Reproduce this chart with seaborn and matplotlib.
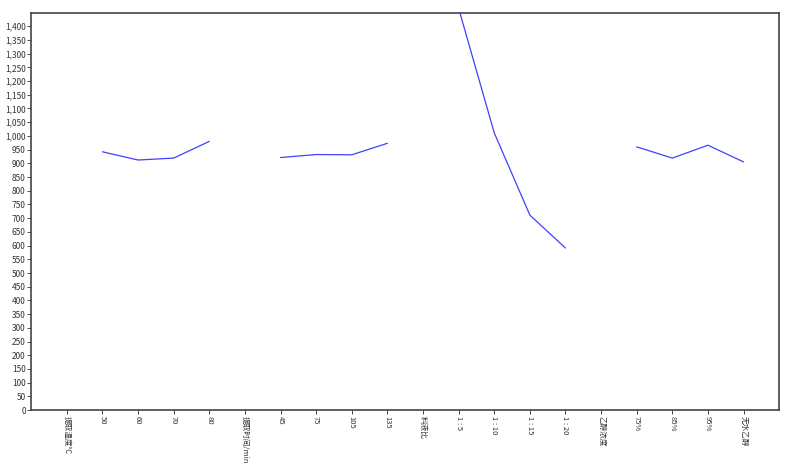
import matplotlib
matplotlib.use("Agg")

import matplotlib.pyplot as plt
import matplotlib.ticker as mticker
import seaborn as sns
import pandas as pd

# Factor groups: header label followed by its levels and measured values
factor_names = ["提取温度℃", "提取时间/min", "料液比", "乙醇浓度"]
temp_levels = ["50", "60", "70", "80"]
temp_values = [942, 912, 919, 980]
time_levels = ["45", "75", "105", "135"]
time_values = [921, 932, 931, 973]
ratio_levels = ["1 : 5", "1 : 10", "1 : 15", "1 : 20"]
ratio_values = [1465, 1011, 711, 591]
ethanol_levels = ["75%", "85%", "95%", "无水乙醇"]
ethanol_values = [960, 919, 966, 905]

groups = [
    (factor_names[0], temp_levels, temp_values),
    (factor_names[1], time_levels, time_values),
    (factor_names[2], ratio_levels, ratio_values),
    (factor_names[3], ethanol_levels, ethanol_values),
]

sns.set_style("white")
plt.rcParams["font.family"] = ["Noto Sans CJK SC", "DejaVu Sans"]

fig = plt.figure(figsize=(8, 4.65), dpi=100)
ax = fig.add_axes([0.039, 0.118, 0.935, 0.854])

tick_labels = []
pos = 0
for name, levels, values in groups:
    tick_labels.append(name)
    pos += 1
    df = pd.DataFrame({"x": range(pos, pos + len(levels)), "y": values})
    sns.lineplot(data=df, x="x", y="y", color="#4040ff", linewidth=0.9, ax=ax)
    tick_labels.extend(levels)
    pos += len(levels)

ax.set_xlim(-1, len(tick_labels))
ax.set_ylim(0, 1448)
ax.set_xticks(range(len(tick_labels)))
ax.set_xticklabels(tick_labels, rotation=-90, fontsize=5.5, color="#333333",
                   ha="center", va="top")
ax.yaxis.set_major_locator(mticker.MultipleLocator(50))
ax.yaxis.set_major_formatter(mticker.FuncFormatter(lambda v, p: f"{int(v):,}"))
ax.tick_params(axis="y", labelsize=6, colors="#333333", length=3, width=0.6, pad=1)
ax.tick_params(axis="x", length=3, width=0.6, pad=1.5)
ax.tick_params(axis="both", which="both", direction="out", left=True, bottom=True)
ax.set_xlabel("")
ax.set_ylabel("")
for spine in ax.spines.values():
    spine.set_color("#444444")
    spine.set_linewidth(1.2)
    spine.set_visible(True)

fig.savefig("out.png", dpi=100)
plt.close(fig)
